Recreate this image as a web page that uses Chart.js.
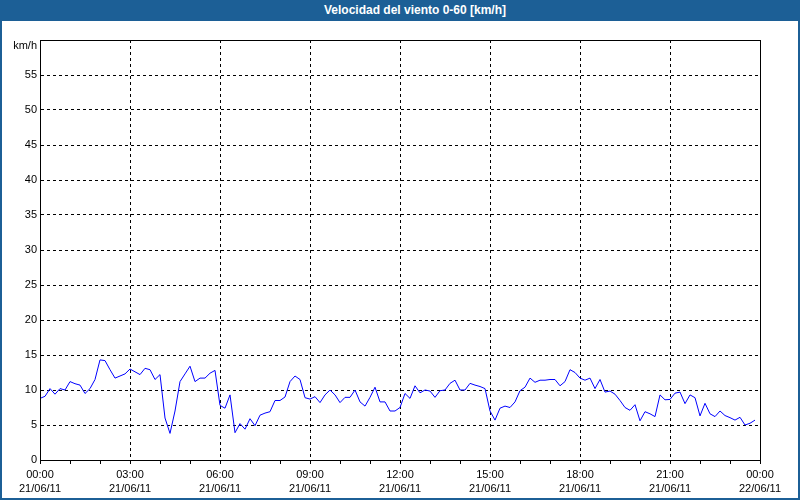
<!DOCTYPE html>
<html>
<head>
<meta charset="utf-8">
<script src="https://cdn.jsdelivr.net/npm/chart.js@4"></script>
<style>
  body { margin: 0; background: #fff; }
  #frame {
    width: 796px; height: 477px;
    border: 2px solid #1c5f96; border-top: none;
    background: #fff;
  }
  #title {
    width: 770px; height: 21px; padding-left: 30px; background: #1c5f96; color: #fff;
    font: bold 12px "Liberation Sans", sans-serif;
    text-align: center; line-height: 21px;
  }
  #myChart { display: block; }
</style>
</head>
<body>
<div id="title">Velocidad del viento 0-60 [km/h]</div>
<div id="frame"><canvas id="myChart" width="796" height="477"></canvas></div>
<script>
// wind speed, one reading every 10 minutes from 21/06/11 00:00
const sampleMinutes = 10;
const speeds = [
  8.8, 9.1, 10.2, 9.4, 10.2, 10.0, 11.2, 10.9, 10.7, 9.5,
  10.2, 11.5, 14.3, 14.2, 12.9, 11.7, 12.0, 12.3, 13.0, 12.6,
  12.2, 13.1, 12.9, 11.5, 12.2, 6.0, 3.8, 7.0, 11.2, 12.3,
  13.4, 11.2, 11.7, 11.7, 12.4, 12.8, 7.8, 7.4, 9.3, 3.9,
  5.2, 4.4, 5.9, 4.9, 6.4, 6.7, 6.9, 8.5, 8.5, 9.0,
  11.2, 12.0, 11.5, 8.9, 8.7, 9.05, 8.2, 9.3, 10.0, 9.3,
  8.2, 8.95, 8.95, 10.0, 8.3, 7.7, 8.95, 10.4, 8.3, 8.3,
  7.0, 7.0, 7.5, 9.5, 8.8, 10.6, 9.6, 10.0, 9.85, 8.95,
  9.9, 10.0, 10.95, 11.4, 10.0, 10.0, 10.95, 10.7, 10.5, 10.2,
  7.0, 5.7, 7.4, 7.7, 7.5, 8.3, 9.9, 10.4, 11.7, 11.1,
  11.4, 11.4, 11.5, 11.5, 10.6, 11.2, 12.9, 12.5, 11.7, 11.4,
  11.7, 10.2, 11.5, 9.7, 9.85, 9.4, 8.5, 7.5, 7.1, 7.9,
  5.6, 6.9, 6.6, 6.2, 9.3, 8.6, 8.65, 9.55, 9.7, 8.05,
  9.3, 8.9, 6.3, 8.1, 6.6, 6.2, 7.0, 6.35, 6.05, 5.7,
  6.1, 5.0, 5.25, 5.7
];
const timeLabels = ["00:00", "03:00", "06:00", "09:00", "12:00", "15:00", "18:00", "21:00", "00:00"];
const dateLabels = ["21/06/11", "21/06/11", "21/06/11", "21/06/11", "21/06/11", "21/06/11", "21/06/11", "21/06/11", "22/06/11"];
const yUnit = "km/h";

const points = speeds.map((v, i) => ({ x: i * sampleMinutes, y: v }));

const frame = {
  id: "frame",
  afterDraw(chart) {
    const { ctx, chartArea: a, scales } = chart;
    ctx.save();
    ctx.strokeStyle = "#000";
    ctx.lineWidth = 1;
    ctx.strokeRect(a.left + 0.5, a.top + 0.5, a.right - a.left, a.bottom - a.top);
    ctx.fillStyle = "#000";
    ctx.font = '11px "Liberation Sans", sans-serif';
    ctx.textAlign = "right";
    ctx.textBaseline = "middle";
    ctx.fillText(yUnit, a.left - 3, scales.y.getPixelForValue(60) + 6);
    ctx.restore();
  }
};

const ctx = document.getElementById("myChart");
new Chart(ctx, {
  type: "line",
  data: {
    datasets: [{
      data: points,
      borderColor: "#0000ff",
      borderWidth: 1,
      pointRadius: 0,
      tension: 0
    }]
  },
  options: {
    responsive: false,
    animation: false,
    layout: { padding: { left: 0, right: 38, top: 19, bottom: 0 } },
    plugins: { legend: { display: false }, tooltip: { enabled: false } },
    scales: {
      x: {
        type: "linear",
        min: 0,
        max: 1440,
        afterFit: (s) => { s.height = 38; },
        ticks: {
          stepSize: 60,
          autoSkip: false,
          maxRotation: 0,
          padding: 3,
          color: "#000",
          font: { family: "Liberation Sans", size: 11, lineHeight: 1.36 },
          callback: (v) => v % 180 === 0 ? [timeLabels[v / 180], dateLabels[v / 180]] : ""
        },
        grid: {
          color: (c) => c.tick && c.tick.value % 180 === 0 ? "#000" : "rgba(0,0,0,0)",
          tickColor: "#000",
          tickLength: 4,
          lineWidth: 1
        },
        border: { color: "#000", dash: [3, 3] }
      },
      y: {
        min: 0,
        max: 60,
        afterFit: (s) => { s.width = 38; },
        ticks: {
          stepSize: 5,
          padding: 3,
          color: "#000",
          font: { family: "Liberation Sans", size: 11 },
          callback: (v) => v === 60 ? "" : v
        },
        grid: { color: "#000", drawTicks: false, lineWidth: 1 },
        border: { color: "#000", dash: [3, 3] }
      }
    }
  },
  plugins: [frame]
});
</script>
</body>
</html>
